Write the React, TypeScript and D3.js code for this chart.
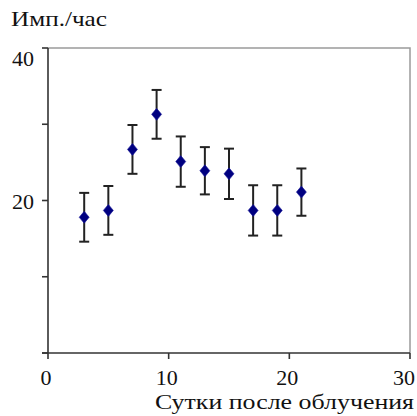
import React, { useRef, useEffect } from 'react'
import * as d3 from 'd3'

// days after irradiation
const days = [3, 5, 7, 9, 11, 13, 15, 17, 19, 21]
// counts per hour
const rates = [17.8, 18.7, 26.7, 31.3, 25.1, 23.9, 23.5, 18.7, 18.7, 21.1]
// error half-widths
const errors = [3.2, 3.2, 3.2, 3.2, 3.3, 3.1, 3.3, 3.3, 3.3, 3.1]

const xTicks = [0, 10, 20, 30]
const yMajorTicks = [20, 40]
const yMinorTicks = [0, 10, 30]

const yTitle = 'Имп./час'
const xTitle = 'Сутки после облучения'

const Chart = () => {
    const svgRef = useRef<SVGSVGElement>(null)

    useEffect(() => {
        const svg = d3.select(svgRef.current)
        const width = 417
        const height = 416
        const margin = { top: 48, right: 7, bottom: 63, left: 48 }
        const font = 'Liberation Serif, Times New Roman, serif'

        svg.selectAll('*').remove()

        const x = d3.scaleLinear().domain([0, 30]).range([margin.left, width - margin.right])
        const y = d3.scaleLinear().domain([0, 40]).range([height - margin.bottom, margin.top])

        //frame top + right (grey)
        svg.append('path')
            .attr('d', `M${x(0)},${y(40)}H${x(30)}V${y(0)}`)
            .attr('fill', 'none')
            .attr('stroke', '#9a9a9a')
            .attr('stroke-width', 1.5)

        //axes
        const axisColor = '#333'
        svg.append('line')
            .attr('x1', x(0)).attr('x2', x(0))
            .attr('y1', y(0)).attr('y2', y(40))
            .attr('stroke', axisColor).attr('stroke-width', 1.6)
        svg.append('line')
            .attr('x1', x(0) - 6).attr('x2', x(30))
            .attr('y1', y(0)).attr('y2', y(0))
            .attr('stroke', axisColor).attr('stroke-width', 1.6)

        //y ticks
        svg.selectAll('.ytick')
            .data([...yMajorTicks, ...yMinorTicks])
            .enter()
            .append('line')
            .attr('x1', x(0) - 6).attr('x2', x(0))
            .attr('y1', (d) => y(d)).attr('y2', (d) => y(d))
            .attr('stroke', axisColor).attr('stroke-width', 1.6)

        //x ticks
        svg.selectAll('.xtick')
            .data(xTicks)
            .enter()
            .append('line')
            .attr('x1', (d) => x(d)).attr('x2', (d) => x(d))
            .attr('y1', y(0)).attr('y2', y(0) + 6)
            .attr('stroke', axisColor).attr('stroke-width', 1.6)

        //y tick labels (top one sits below its tick)
        svg.selectAll('.ylab')
            .data(yMajorTicks)
            .enter()
            .append('text')
            .attr('x', x(0) - 14)
            .attr('y', (d) => y(d) + (d === 40 ? 18 : 8))
            .attr('text-anchor', 'end')
            .attr('font-family', font)
            .attr('font-size', 22)
            .attr('fill', '#111')
            .text((d) => d)

        //x tick labels
        svg.selectAll('.xlab')
            .data(xTicks)
            .enter()
            .append('text')
            .attr('x', (d) => Math.min(x(d) - 2, width - 13))
            .attr('y', y(0) + 32)
            .attr('text-anchor', 'middle')
            .attr('font-family', font)
            .attr('font-size', 22)
            .attr('fill', '#111')
            .text((d) => d)

        //axis titles
        svg.append('text')
            .attr('x', 11)
            .attr('y', 26)
            .attr('font-family', font)
            .attr('font-size', 22)
            .attr('fill', '#111')
            .attr('textLength', 96)
            .attr('lengthAdjust', 'spacingAndGlyphs')
            .text(yTitle)

        svg.append('text')
            .attr('x', 155)
            .attr('y', 409)
            .attr('font-family', font)
            .attr('font-size', 22)
            .attr('fill', '#111')
            .attr('textLength', 259)
            .attr('lengthAdjust', 'spacingAndGlyphs')
            .text(xTitle)

        const pts = days.map((d, i) => ({ day: d, rate: rates[i], err: errors[i] }))

        //error bars
        const eb = svg.selectAll('.err').data(pts).enter().append('g')
        eb.append('line')
            .attr('x1', (d) => x(d.day)).attr('x2', (d) => x(d.day))
            .attr('y1', (d) => y(d.rate - d.err)).attr('y2', (d) => y(d.rate + d.err))
            .attr('stroke', '#222').attr('stroke-width', 2)
        eb.append('line')
            .attr('x1', (d) => x(d.day) - 5).attr('x2', (d) => x(d.day) + 5)
            .attr('y1', (d) => y(d.rate + d.err)).attr('y2', (d) => y(d.rate + d.err))
            .attr('stroke', '#222').attr('stroke-width', 2)
        eb.append('line')
            .attr('x1', (d) => x(d.day) - 5).attr('x2', (d) => x(d.day) + 5)
            .attr('y1', (d) => y(d.rate - d.err)).attr('y2', (d) => y(d.rate - d.err))
            .attr('stroke', '#222').attr('stroke-width', 2)

        //diamond markers
        svg.selectAll('.pt')
            .data(pts)
            .enter()
            .append('path')
            .attr('d', (d) => {
                const cx = x(d.day)
                const cy = y(d.rate)
                return `M${cx},${cy - 6}L${cx + 5},${cy}L${cx},${cy + 6}L${cx - 5},${cy}Z`
            })
            .attr('fill', '#000080')
            .attr('stroke', '#1a1a9a')
            .attr('stroke-width', 0.6)
    }, [])

    return <svg ref={svgRef} width={417} height={416} style={{ display: 'block' }} />
}

export default function App() {
    return (
        <div style={{ position: 'fixed', left: 0, top: 0, background: '#fff' }}>
            <Chart />
        </div>
    )
}
